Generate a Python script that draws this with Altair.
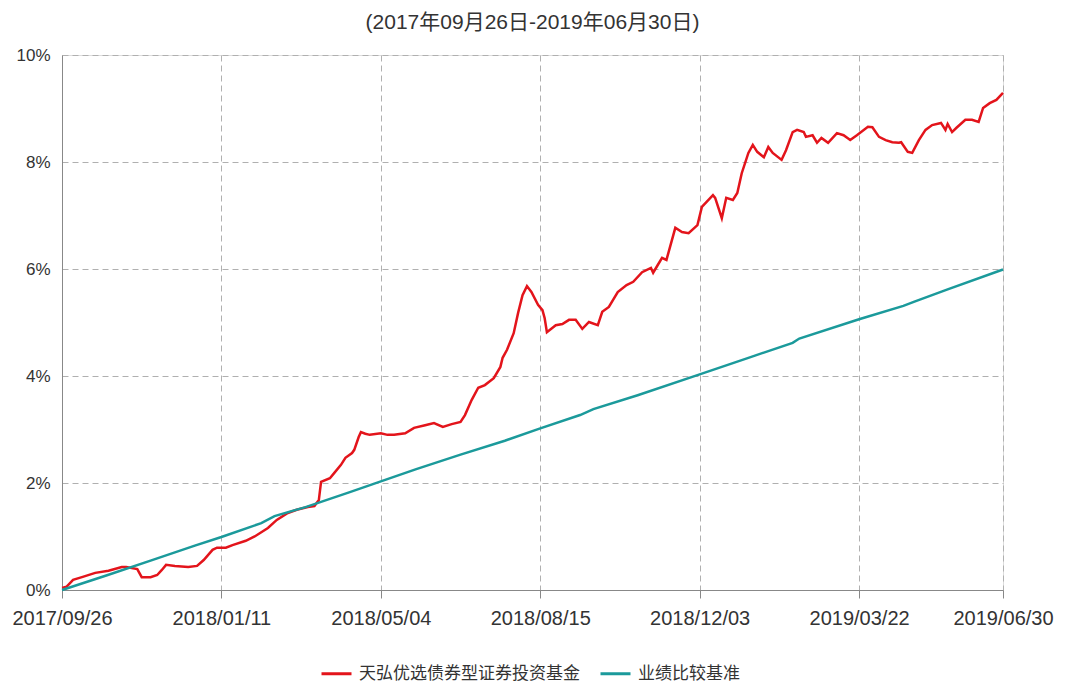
import altair as alt
import pandas as pd

title_text = "(2017年09月26日-2019年06月30日)"
fund_name = "天弘优选债券型证券投资基金"
bench_name = "业绩比较基准"

tick_idx = [0, 72, 144, 216, 288, 360, 425]
tick_labels = ["2017/09/26", "2018/01/11", "2018/05/04", "2018/08/15",
               "2018/12/03", "2019/03/22", "2019/06/30"]
y_ticks = [0, 2, 4, 6, 8, 10]

fund_idx = [0, 2, 5, 9, 15, 21, 27, 29, 34, 36, 40, 43, 45, 47, 51, 57, 61, 64, 68, 70,
            74, 77, 83, 87, 93, 97, 102, 106, 111, 114, 116, 117, 121, 123, 126, 128, 131, 132, 134, 135,
            137, 139, 144, 147, 150, 155, 159, 164, 168, 172, 176, 180, 182, 185, 188, 191, 195, 198, 199, 201,
            204, 206, 208, 210, 212, 215, 217, 218, 219, 223, 226, 229, 232, 235, 238, 242, 244, 247, 251, 255,
            258, 262, 266, 267, 269, 271, 273, 277, 280, 283, 287, 289, 294, 295, 298, 300, 303, 305, 307, 310,
            312, 314, 317, 319, 321, 325, 327, 330, 332, 335, 336, 339, 341, 343, 346, 350, 353, 356, 359, 364,
            366, 369, 372, 375, 378, 379, 382, 384, 387, 390, 393, 397, 399, 400, 402, 404, 408, 411, 414, 416,
            419, 422, 425]
fund_val = [0.04, 0.06, 0.19, 0.24, 0.32, 0.36, 0.43, 0.43, 0.39, 0.24, 0.24, 0.28, 0.37, 0.47, 0.45, 0.43, 0.45, 0.56, 0.75, 0.79,
            0.79, 0.84, 0.92, 1.00, 1.16, 1.31, 1.44, 1.50, 1.55, 1.57, 1.68, 2.02, 2.09, 2.19, 2.34, 2.47, 2.56, 2.62, 2.86, 2.95,
            2.92, 2.90, 2.93, 2.90, 2.90, 2.93, 3.03, 3.08, 3.12, 3.05, 3.10, 3.14, 3.27, 3.55, 3.78, 3.83, 3.96, 4.17, 4.34, 4.49,
            4.80, 5.18, 5.51, 5.68, 5.57, 5.33, 5.23, 5.08, 4.82, 4.95, 4.97, 5.05, 5.05, 4.88, 5.01, 4.95, 5.20, 5.29, 5.57, 5.70,
            5.76, 5.94, 6.02, 5.93, 6.07, 6.21, 6.17, 6.77, 6.69, 6.67, 6.82, 7.16, 7.38, 7.33, 6.95, 7.33, 7.29, 7.42, 7.79, 8.17,
            8.32, 8.19, 8.09, 8.28, 8.17, 8.04, 8.22, 8.56, 8.60, 8.56, 8.47, 8.50, 8.36, 8.45, 8.36, 8.54, 8.50, 8.41, 8.50, 8.66,
            8.65, 8.47, 8.41, 8.37, 8.36, 8.37, 8.19, 8.17, 8.41, 8.60, 8.69, 8.73, 8.60, 8.71, 8.56, 8.64, 8.79, 8.79, 8.75, 9.01,
            9.10, 9.16, 9.29]

bench_idx = [0, 20, 40, 60, 72, 90, 96, 110, 130, 144, 160, 180, 200, 216, 234, 240, 260,
             288, 310, 330, 333, 360, 380, 385, 400, 425]
bench_val = [0.00, 0.27, 0.55, 0.83, 0.99, 1.25, 1.38, 1.55, 1.83, 2.03, 2.26, 2.53, 2.79, 3.02, 3.27, 3.38, 3.64,
             4.03, 4.34, 4.62, 4.70, 5.06, 5.31, 5.39, 5.62, 5.99]

rows = [{"series": fund_name, "idx": i, "value": v} for i, v in zip(fund_idx, fund_val)]
rows += [{"series": bench_name, "idx": i, "value": v} for i, v in zip(bench_idx, bench_val)]
df = pd.DataFrame(rows)

label_expr = "[" + ",".join("'%s'" % t for t in tick_labels) + "][indexof([" + \
    ",".join(str(t) for t in tick_idx) + "], datum.value)]"

FONT = "Liberation Sans, Arial, Noto Sans CJK SC"

chart = alt.Chart(df).mark_line(strokeWidth=2.5).encode(
    x=alt.X("idx:Q",
            scale=alt.Scale(domain=[0, 425], nice=False, zero=False),
            axis=alt.Axis(values=tick_idx, labelExpr=label_expr, title=None,
                          grid=True, gridDash=[6, 4], gridColor="#b0b0b0",
                          domainColor="#888888", tickColor="#888888", tickSize=8,
                          labelFontSize=20, labelColor="#333333", labelPadding=10,
                          labelOverlap=False, labelFlush=False, labelBound=False,
                          labelFont=FONT)),
    y=alt.Y("value:Q",
            scale=alt.Scale(domain=[0, 10], nice=False),
            axis=alt.Axis(values=y_ticks, labelExpr="datum.value + '%'", title=None,
                          grid=True, gridDash=[6, 4], gridColor="#b0b0b0",
                          domainColor="#888888", ticks=False,
                          labelFontSize=17, labelColor="#333333", labelPadding=12,
                          labelFont=FONT)),
    color=alt.Color("series:N",
                    scale=alt.Scale(domain=[fund_name, bench_name],
                                    range=["#e3141b", "#1b9a9b"]),
                    sort=[fund_name, bench_name],
                    legend=alt.Legend(title=None, orient="none", direction="horizontal",
                                      legendX=258, legendY=602,
                                      symbolType="stroke", symbolSize=900,
                                      symbolStrokeWidth=3, labelFontSize=17,
                                      labelColor="#333333", labelFont=FONT,
                                      labelOffset=6, columnPadding=14,
                                      labelLimit=400)),
    order=alt.Order("idx:Q"),
).properties(
    width=941,
    height=535,
    title=alt.TitleParams(text=title_text, fontSize=21, fontWeight="normal",
                          color="#333333", font=FONT, anchor="middle", offset=13),
    autosize=alt.AutoSizeParams(type="none"),
    padding={"left": 54, "top": 47, "right": 60, "bottom": 95},
).configure_view(
    stroke="#aaaaaa", strokeWidth=1
).configure(background="white")

chart.save("out.html", embed_options={"renderer": "svg", "actions": False})
